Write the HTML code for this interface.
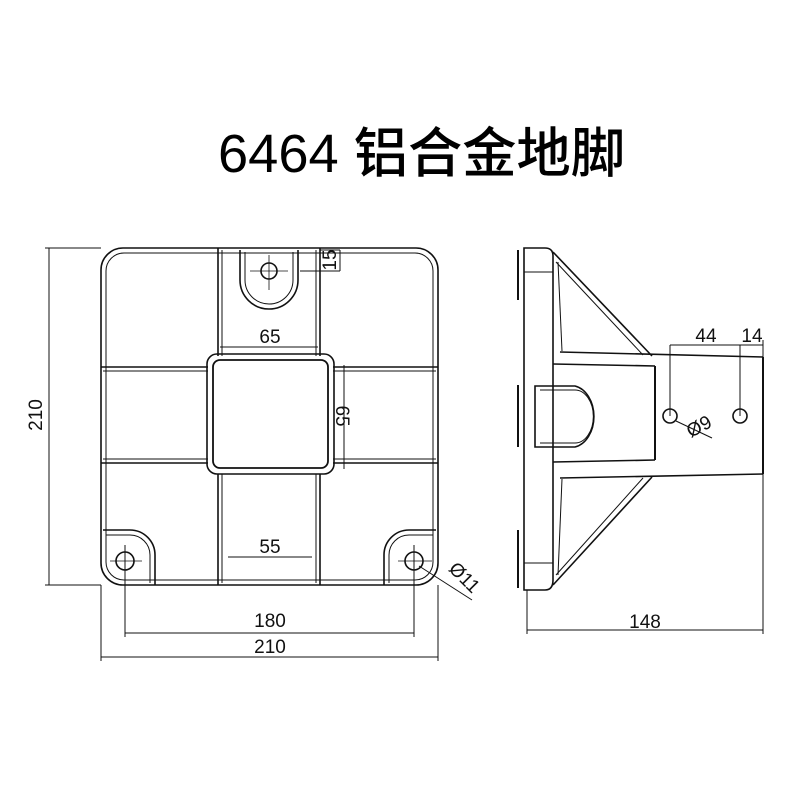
<!DOCTYPE html>
<html><head><meta charset="utf-8"><style>html,body{margin:0;padding:0;background:#fff}</style></head>
<body>
<svg width="800" height="800" viewBox="0 0 800 800" xmlns="http://www.w3.org/2000/svg" font-family="Liberation Sans, sans-serif">
<rect width="800" height="800" fill="#fff"/>
<text x="218" y="172" font-size="54" font-family="Liberation Sans, Noto Sans CJK SC, sans-serif" font-weight="500" textLength="407" lengthAdjust="spacingAndGlyphs">6464 铝合金地脚</text>
<g fill="none" stroke="#111" stroke-width="1.6">
<rect x="101" y="248" width="337" height="337" rx="22"/>
<rect x="106" y="253" width="327" height="327" rx="18" stroke-width="1"/>
<line x1="218" y1="248" x2="218" y2="356"/><line x1="222" y1="250" x2="222" y2="356" stroke-width="1"/>
<line x1="320" y1="248" x2="320" y2="356"/><line x1="316" y1="250" x2="316" y2="356" stroke-width="1"/>
<line x1="218" y1="474" x2="218" y2="585"/><line x1="222" y1="474" x2="222" y2="583" stroke-width="1"/>
<line x1="320" y1="474" x2="320" y2="585"/><line x1="316" y1="474" x2="316" y2="583" stroke-width="1"/>
<line x1="101" y1="367" x2="208" y2="367"/><line x1="103" y1="371" x2="208" y2="371" stroke-width="1"/>
<line x1="101" y1="463" x2="208" y2="463"/><line x1="103" y1="459" x2="208" y2="459" stroke-width="1"/>
<line x1="333" y1="367" x2="438" y2="367"/><line x1="333" y1="371" x2="436" y2="371" stroke-width="1"/>
<line x1="333" y1="463" x2="438" y2="463"/><line x1="333" y1="459" x2="436" y2="459" stroke-width="1"/>
<rect x="207" y="354" width="127" height="120" rx="10"/>
<rect x="213" y="360" width="115" height="108" rx="7" stroke-width="1.8"/>
<path d="M240 250 V280 A29 29 0 0 0 298 280 V250"/>
<path d="M245 252 V280 A24 24 0 0 0 293 280 V252" stroke-width="1"/>
<circle cx="269" cy="271" r="8"/>
<line x1="269" y1="255" x2="269" y2="290" stroke-width="0.8"/><line x1="250" y1="271" x2="288" y2="271" stroke-width="0.8"/>
<path d="M103 530 H130 A25 25 0 0 1 155 555 V585"/>
<path d="M106 535 H130 A20 20 0 0 1 150 555 V583" stroke-width="1"/>
<path d="M436 530 H409 A25 25 0 0 0 384 555 V585"/>
<path d="M433 535 H409 A20 20 0 0 0 389 555 V583" stroke-width="1"/>
<circle cx="125" cy="561" r="9"/><circle cx="414" cy="561" r="9"/>
<line x1="110" y1="561" x2="142" y2="561" stroke-width="0.8"/><line x1="398" y1="561" x2="432" y2="561" stroke-width="0.8"/>
</g>
<g fill="none" stroke="#111" stroke-width="1">
<line x1="45" y1="248" x2="101" y2="248"/><line x1="45" y1="585" x2="101" y2="585"/>
<line x1="49" y1="248" x2="49" y2="585"/>
<line x1="125" y1="545" x2="125" y2="637"/><line x1="414" y1="545" x2="414" y2="637"/>
<line x1="125" y1="633" x2="414" y2="633"/>
<line x1="101" y1="585" x2="101" y2="661"/><line x1="438" y1="585" x2="438" y2="661"/>
<line x1="101" y1="657" x2="438" y2="657"/>
<line x1="228" y1="557" x2="312" y2="557"/>
<line x1="220" y1="347" x2="318" y2="347"/>
<line x1="344" y1="365" x2="344" y2="469"/>
<line x1="300" y1="271" x2="340" y2="271"/><line x1="320" y1="250" x2="340" y2="250"/><line x1="340" y1="250" x2="340" y2="271"/>
<line x1="419" y1="566" x2="472" y2="600"/>
<path d="M524 248 H545 Q553 248 553 256 V580 Q553 590 545 590 H524 Z" stroke-width="1.6"/>
<line x1="524" y1="272" x2="553" y2="272"/><line x1="524" y1="563" x2="553" y2="563"/>
<line x1="518" y1="250" x2="518" y2="300" stroke-width="2"/><line x1="518" y1="385" x2="518" y2="447" stroke-width="2"/><line x1="518" y1="530" x2="518" y2="588" stroke-width="2"/>
<line x1="553" y1="252" x2="652" y2="356" stroke-width="1.6"/><line x1="556" y1="262" x2="643" y2="355"/>
<line x1="553" y1="585" x2="652" y2="477" stroke-width="1.6"/><line x1="556" y1="575" x2="643" y2="478"/>
<line x1="558" y1="262" x2="562" y2="351"/><line x1="558" y1="575" x2="562" y2="479"/>
<line x1="560" y1="352" x2="763" y2="357" stroke-width="1.6"/>
<line x1="560" y1="478" x2="763" y2="474" stroke-width="1.6"/>
<line x1="763" y1="357" x2="763" y2="474" stroke-width="2"/>
<line x1="553" y1="364" x2="655" y2="366" stroke-width="1.6"/>
<line x1="553" y1="462" x2="655" y2="460" stroke-width="1.6"/>
<line x1="655" y1="366" x2="655" y2="460" stroke-width="2"/>
<path d="M535 386 H575 A23 31 0 0 1 575 447 H535 Z" stroke-width="1.6"/>
<path d="M540 390 H575 A18 26 0 0 1 575 443 H540" />
<circle cx="670" cy="416" r="7" stroke-width="1.6"/><circle cx="740" cy="416" r="7" stroke-width="1.6"/>
<line x1="670" y1="345" x2="670" y2="416"/><line x1="740" y1="345" x2="740" y2="416"/>
<line x1="670" y1="345" x2="763" y2="345"/><line x1="763" y1="340" x2="763" y2="357"/>
<line x1="676" y1="421" x2="712" y2="438"/>
<line x1="527" y1="590" x2="527" y2="634"/><line x1="763" y1="474" x2="763" y2="634"/>
<line x1="527" y1="630" x2="763" y2="630"/>
</g>
<g font-size="19" fill="#111" text-anchor="middle">
<text x="270" y="627">180</text>
<text x="270" y="653">210</text>
<text x="270" y="553">55</text>
<text x="270" y="343">65</text>
<text transform="translate(42 415) rotate(-90)">210</text>
<text transform="translate(336 416) rotate(90)">65</text>
<text transform="translate(336 260) rotate(-90)">15</text>
<text transform="translate(460 582) rotate(45)">Ø11</text>
<text x="706" y="342">44</text>
<text x="752" y="342">14</text>
<text transform="translate(702 432) rotate(-28)">Ø9</text>
<text x="645" y="628">148</text>
</g>
</svg>
</body></html>
